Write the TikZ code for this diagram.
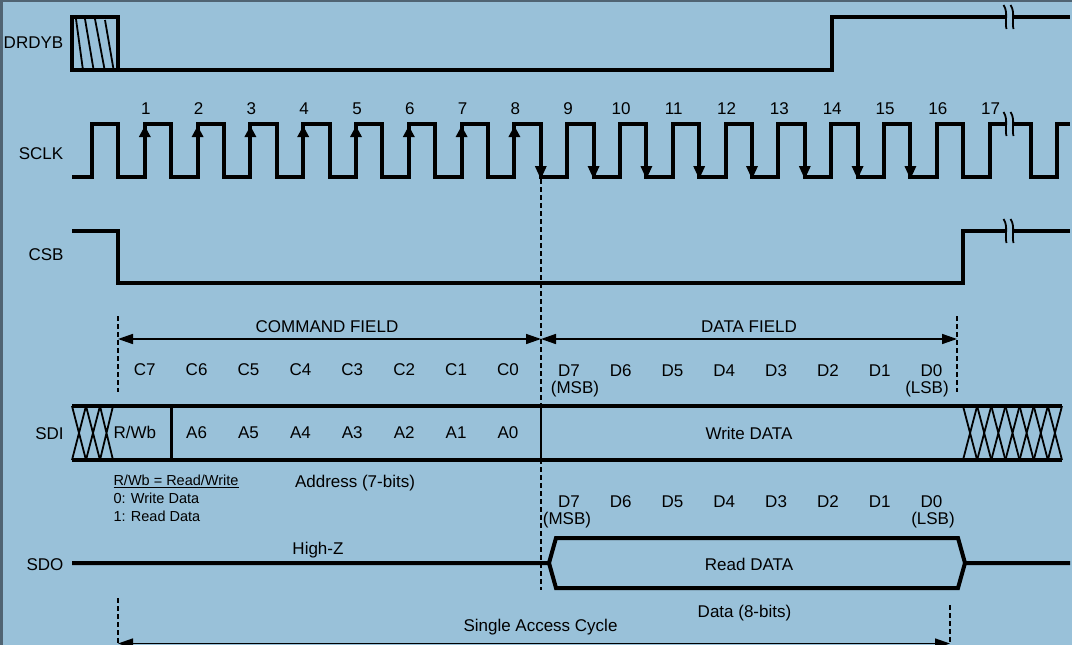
\documentclass[tikz,border=0pt]{standalone}
\usepackage{fontspec}
\setmainfont{Liberation Sans}
\usetikzlibrary{arrows.meta}
\definecolor{bg}{RGB}{153,193,217}
\definecolor{frame}{RGB}{80,100,115}
\begin{document}
\begin{tikzpicture}[x=1pt,y=-1pt,
  sig/.style={line width=4pt, line join=miter},
  xline/.style={line width=1.8pt},
  dsh/.style={line width=1.5pt, dash pattern=on 5pt off 3pt},
  lbl/.style={font=\fontsize{17}{20}\selectfont, inner sep=0pt, text height=12.2pt, text depth=0pt},
  sml/.style={font=\fontsize{14.5}{17}\selectfont, inner sep=0pt, anchor=west, text height=10.4pt, text depth=0pt},
  fld/.style={line width=1.5pt, {Triangle[length=15pt,width=10pt]}-{Triangle[length=15pt,width=10pt]}},
  brk/.pic={\draw[line width=1.8pt] (-5,-12) .. controls (0,-5) and (-4,5) .. (-2,12);
            \draw[line width=1.8pt] (2,-12) .. controls (7,-5) and (3,5) .. (5,12);}
]
\useasboundingbox (0,0) rectangle (1072,645);
\fill[bg] (0,0) rectangle (1072,645);
\fill[frame] (0,0) rectangle (1072,2);
\fill[frame] (0,0) rectangle (3,645);

% ---------- DRDYB ----------
\node[lbl] (ldrdyb) at (33.5,42) {DRDYB};
\draw[sig] (118,70) -- (72,70) -- (72,17) -- (118,17) -- (118,70) -- (832,70) -- (832,17) -- (1005,17);
\draw[sig] (1012,17) -- (1070,17);
\pic at (1008.5,17) {brk};
\draw[xline] (76,19) -- (82.7,68) (85,19) -- (93.3,68) (95,19) -- (104.3,68) (105,20) -- (113.3,68);

% ---------- SCLK ----------
\node[lbl] (lsclk) at (41,153) {SCLK};
\draw[sig] (72,177) foreach \k in {0,...,16} { -- ({92+52.8*\k},177) -- ({92+52.8*\k},124) -- ({118.4+52.8*\k},124) -- ({118.4+52.8*\k},177) } -- (989.6,177) -- (989.6,124) -- (1005,124);
\draw[sig] (1012,124) -- (1031,124) -- (1031,177) -- (1057,177) -- (1057,124) -- (1070,124);
\pic at (1008.5,124) {brk};
\foreach \k in {1,...,8} \fill ({92+52.8*\k},126) -- ++(6,11) -- ++(-12,0) -- cycle;
\foreach \k in {8,...,15} \fill ({118.4+52.8*\k},179) -- ++(6,-13) -- ++(-12,0) -- cycle;
\foreach \k in {1,...,17} \node[lbl] (n\k) at ({92+52.8*\k+1},108.5) {\k};

% ---------- CSB ----------
\node[lbl] (lcsb) at (46,254) {CSB};
\draw[sig] (72,231) -- (118,231) -- (118,283) -- (963,283) -- (963,231) -- (1005,231);
\draw[sig] (1012,231) -- (1070,231);
\pic at (1008.5,231) {brk};

% ---------- dashed markers ----------
\coordinate (m0) at (541,179);
\coordinate (m1) at (541,590);
\draw[dsh] (m0) -- (m1);
\coordinate (c0t) at (118,316); \coordinate (c0b) at (118,392);
\coordinate (c1t) at (957,316); \coordinate (c1b) at (957,392);
\coordinate (cm) at (541,339);
\draw[dsh] (c0t) -- (c0b);
\draw[dsh] (c1t) -- (c1b);
\draw[fld] (118,339) -- (cm);
\draw[fld] (cm) -- (957,339);
\node[lbl] (cmdf) at (327,326) {COMMAND FIELD};
\node[lbl] (datf) at (749,326) {DATA FIELD};

% C labels
\foreach \t [count=\i from 0] in {C7,C6,C5,C4,C3,C2,C1,C0}
  \node[lbl] (c\i) at ({144.7+51.9*\i},369.5) {\t};
% D labels row 1
\foreach \t [count=\i from 0] in {D7,D6,D5,D4,D3,D2,D1,D0}
  \node[lbl] (d\i) at ({568.9+51.8*\i},370) {\t};
\node[lbl] (msb1) at (575,387.5) {(MSB)};
\node[lbl] (lsb1) at (927,387.5) {(LSB)};

% ---------- SDI ----------
\node[lbl] (lsdi) at (49.5,433) {SDI};
\draw[sig] (72,406) -- (1062,406);
\draw[sig] (72,460) -- (1062,460);
\draw[line width=3pt] (171,406) -- (171,460);
\draw[line width=2.5pt] (541,406) -- (541,460);
\foreach \a/\b in {72/86,86/100,100/113}
  \draw[xline] (\a,406) -- (\b,460) (\a,460) -- (\b,406);
\foreach \i in {0,...,6}
  \draw[xline] ({963+14.143*\i},406) -- ({963+14.143*(\i+1)},460) ({963+14.143*\i},460) -- ({963+14.143*(\i+1)},406);
\node[lbl] (rwb) at (134.8,432) {R/Wb};
\foreach \t [count=\i from 1] in {A6,A5,A4,A3,A2,A1,A0}
  \node[lbl] (a\i) at ({144.7+51.9*\i},432) {\t};
\node[lbl] (wdata) at (749,433) {Write DATA};

\node[sml] (rwdef) at (113.3,480.5) {\underline{R/Wb = Read/Write}};
\node[sml] (rw0) at (113.3,498.5) {0: Write Data};
\node[sml] (rw1) at (113.3,516.5) {1: Read Data};
\node[lbl] (addr) at (355,481) {Address (7-bits)};

% D labels row 2
\foreach \t [count=\i from 0] in {D7,D6,D5,D4,D3,D2,D1,D0}
  \node[lbl] (e\i) at ({568.9+51.8*\i},501) {\t};
\node[lbl] (msb2) at (567,518.5) {(MSB)};
\node[lbl] (lsb2) at (933,518.5) {(LSB)};

% ---------- SDO ----------
\node[lbl] (lsdo) at (45,564) {SDO};
\draw[sig] (72,563) -- (549,563) -- (556,538) -- (958,538) -- (965,563) -- (1070,563);
\draw[sig] (549,563) -- (556,588) -- (958,588) -- (965,563);
\node[lbl] (highz) at (318,548) {High-Z};
\node[lbl] (rdata) at (749,564) {Read DATA};
\node[lbl] (dbits) at (744.5,611) {Data (8-bits)};

% ---------- single access cycle ----------
\coordinate (s0t) at (118,598); \coordinate (s0b) at (118,645);
\coordinate (s1t) at (950,605); \coordinate (s1b) at (950,645);
\draw[dsh] (s0t) -- (s0b);
\draw[dsh] (s1t) -- (s1b);
\coordinate (sa) at (118,643.5); \coordinate (sb) at (950,643.5);
\draw[fld] (sa) -- (sb);
\node[lbl] (sac) at (540.5,625.5) {Single Access Cycle};
\end{tikzpicture}
\end{document}
